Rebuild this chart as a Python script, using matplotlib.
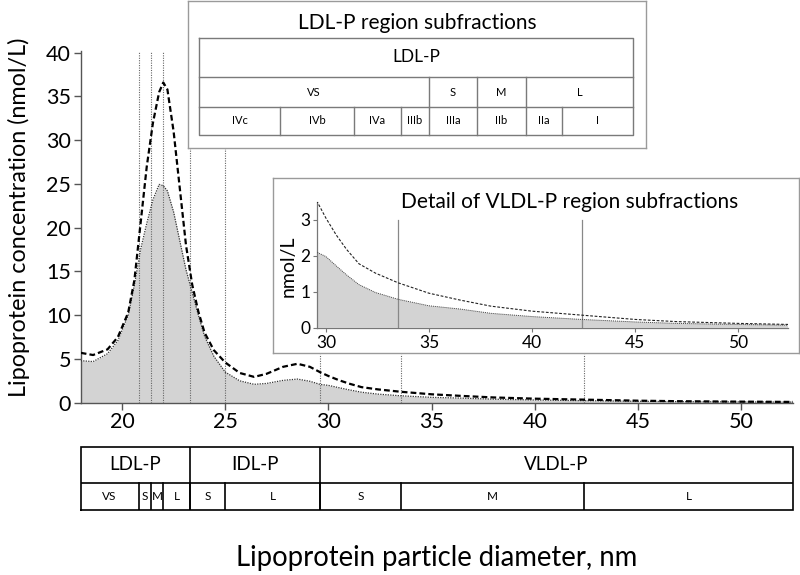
import matplotlib
matplotlib.use("Agg")
import matplotlib.pyplot as plt
import numpy as np

plt.rcParams['font.family'] = ['Lato', 'DejaVu Sans']

# ---------------- data ----------------
diameter = [18.0, 18.6, 19.3, 19.8, 20.3, 20.6, 20.9, 21.2, 21.5, 21.8, 22.0,
            22.2, 22.5, 22.8, 23.1, 23.4, 23.7, 24.0, 24.45, 25.0, 25.7, 26.4,
            27.0, 27.8, 28.5, 29.1, 29.6, 30.0, 30.5, 31.0, 31.6, 32.4, 33.5,
            35.0, 36.5, 38.0, 40.0, 42.4, 45.0, 47.0, 50.0, 52.5]
total_conc = [5.7, 5.45, 6.1, 7.5, 10.3, 14.0, 20.5, 27.0, 32.0, 35.5, 36.6,
              35.8, 31.0, 24.5, 18.0, 13.5, 10.4, 8.0, 6.0, 4.6, 3.4, 2.95,
              3.3, 4.1, 4.45, 4.1, 3.48, 3.05, 2.58, 2.18, 1.78, 1.52, 1.25,
              0.96, 0.77, 0.6, 0.46, 0.35, 0.23, 0.17, 0.12, 0.09]
subj_conc = [4.8, 4.7, 5.6, 7.1, 10.0, 13.4, 17.5, 20.5, 23.2, 24.95, 24.8,
             24.2, 21.8, 18.5, 15.2, 12.6, 10.0, 7.6, 5.3, 3.5, 2.5, 2.1,
             2.2, 2.55, 2.7, 2.45, 2.09, 1.98, 1.72, 1.47, 1.2, 0.98, 0.79,
             0.61, 0.52, 0.4, 0.31, 0.23, 0.16, 0.12, 0.09, 0.07]

# class boundaries (nm)
class_edges = [18.0, 23.3, 29.6, 52.5]
class_labels = ['LDL-P', 'IDL-P', 'VLDL-P']
size_edges = [18.0, 20.8, 21.4, 22.0, 23.3, 25.0, 29.6, 33.5, 42.4, 52.5]
size_labels = ['VS', 'S', 'M', 'L', 'S', 'L', 'S', 'M', 'L']
ldl_idl_vlines = [20.8, 21.4, 22.0, 23.3, 25.0]
vldl_vlines = [29.6, 33.5, 42.4]
vldl_detail_vlines = [33.5, 42.4]

# LDL-P subfraction schematic
ldl_sub_labels = ['IVc', 'IVb', 'IVa', 'IIIb', 'IIIa', 'IIb', 'IIa', 'I']
ldl_sub_widths = [81, 74, 47, 28, 48, 49, 36, 71]
ldl_group_labels = ['VS', 'S', 'M', 'L']
ldl_group_spans = [4, 1, 1, 2]

W, H = 800, 575
fig = plt.figure(figsize=(8, 5.75), dpi=100)

def fax(x0, y0, x1, y1):
    """axes rect from pixel box (top-left origin)"""
    return [x0 / W, 1 - y1 / H, (x1 - x0) / W, (y1 - y0) / H]

# ---------------- main axes ----------------
ax = fig.add_axes(fax(80.7, 51, 793, 402.7))
ax.fill_between(diameter, subj_conc, 0, color='#d3d3d3', lw=0, zorder=1)
for v in ldl_idl_vlines:
    ax.plot([v, v], [0, 40.2], color='#666666', ls=(0, (1, 1.2)), lw=0.8, zorder=2)
for v in vldl_vlines:
    ax.plot([v, v], [0, 5.6], color='#666666', ls=(0, (1, 1.2)), lw=0.8, zorder=2)
ax.plot(diameter, subj_conc, color='#333333', ls=(0, (1, 1)), lw=0.9, zorder=3)
ax.plot(diameter, total_conc, color='black', ls=(0, (2.6, 1.4)), lw=1.6, zorder=4)
ax.set_xlim(18, 52.5)
ax.set_ylim(0, 40.2)
ax.set_xticks([20, 25, 30, 35, 40, 45, 50])
ax.set_yticks([0, 5, 10, 15, 20, 25, 30, 35, 40])
for s in ['top', 'right']:
    ax.spines[s].set_visible(False)
for s in ['left', 'bottom']:
    ax.spines[s].set_color('#555555')
    ax.spines[s].set_linewidth(1.0)
ax.tick_params(axis='both', labelsize=15.5, length=5, width=1, color='#555555', pad=2)
ax.set_facecolor('white')

fig.text(19 / W, 1 - 217 / H, 'Lipoprotein concentration (nmol/L)', rotation=90,
         ha='center', va='center', fontsize=16.8)
fig.text(437 / W, 1 - 558 / H, 'Lipoprotein particle diameter, nm',
         ha='center', va='center', fontsize=19.8)

# ---------------- bottom class table ----------------
tab = fig.add_axes(fax(80.7, 446.7, 793, 510))
tab.set_xlim(18, 52.5)
tab.set_ylim(0, 1)
tab.axis('off')
mid = 0.427
lw_t = 1.2
tab.plot([18, 52.5, 52.5, 18, 18], [0, 0, 1, 1, 0], color='black', lw=lw_t,
         clip_on=False, solid_joinstyle='miter')
tab.plot([18, 52.5], [mid, mid], color='black', lw=lw_t)
for e in class_edges[1:-1]:
    tab.plot([e, e], [0, 1], color='black', lw=lw_t)
for e in size_edges[1:-1]:
    tab.plot([e, e], [0, mid], color='black', lw=lw_t)
for i, lab in enumerate(class_labels):
    tab.text((class_edges[i] + class_edges[i + 1]) / 2, (1 + mid) / 2, lab,
             ha='center', va='center', fontsize=13.5)
for i, lab in enumerate(size_labels):
    tab.text((size_edges[i] + size_edges[i + 1]) / 2, mid / 2, lab,
             ha='center', va='center', fontsize=8.5)

# ---------------- LDL-P subfraction box ----------------
bx = fig.add_axes(fax(188, 1, 646, 148))
bx.set_xlim(0, 458)
bx.set_ylim(147, 0)
bx.set_xticks([])
bx.set_yticks([])
for s in bx.spines.values():
    s.set_color('#9a9a9a')
    s.set_linewidth(1.0)
bx.text(229, 22, 'LDL-P region subfractions', ha='center', va='center', fontsize=15)
gx0, gx1 = 11, 11 + sum(ldl_sub_widths)
r0, r1, r2, r3 = 36.7, 76.3, 105.7, 134.3
tc = '#7a7a7a'
bx.plot([gx0, gx1, gx1, gx0, gx0], [r0, r0, r3, r3, r0], color=tc, lw=1.0)
bx.plot([gx0, gx1], [r1, r1], color=tc, lw=1.0)
bx.plot([gx0, gx1], [r2, r2], color=tc, lw=1.0)
bx.text((gx0 + gx1) / 2, (r0 + r1) / 2, 'LDL-P', ha='center', va='center', fontsize=12.5)
sub_edges = np.concatenate([[gx0], gx0 + np.cumsum(ldl_sub_widths)])
for e in sub_edges[1:-1]:
    bx.plot([e, e], [r2, r3], color=tc, lw=1.0)
for i, lab in enumerate(ldl_sub_labels):
    bx.text((sub_edges[i] + sub_edges[i + 1]) / 2, (r2 + r3) / 2, lab,
            ha='center', va='center', fontsize=8)
grp_idx = np.concatenate([[0], np.cumsum(ldl_group_spans)])
for e in grp_idx[1:-1]:
    bx.plot([sub_edges[e], sub_edges[e]], [r1, r2], color=tc, lw=1.0)
for i, lab in enumerate(ldl_group_labels):
    bx.text((sub_edges[grp_idx[i]] + sub_edges[grp_idx[i + 1]]) / 2, (r1 + r2) / 2,
            lab, ha='center', va='center', fontsize=8)

# ---------------- VLDL-P detail box ----------------
vb = fig.add_axes(fax(273, 178, 799, 353))
vb.set_xticks([])
vb.set_yticks([])
for s in vb.spines.values():
    s.set_color('#9a9a9a')
    s.set_linewidth(1.0)
vb.text(0.563, 0.865, 'Detail of VLDL-P region subfractions', transform=vb.transAxes,
        ha='center', va='center', fontsize=15)

ins = fig.add_axes(fax(317.3, 202, 787.7, 327.7))
ins.set_facecolor('none')
ins.fill_between(diameter, subj_conc, 0, color='#d3d3d3', lw=0, zorder=1)
ins.plot(diameter, subj_conc, color='#444444', ls=(0, (1, 1)), lw=0.7, zorder=3)
ins.plot(diameter, total_conc, color='#222222', ls=(0, (2.5, 1.5)), lw=0.8, zorder=4)
for v in vldl_detail_vlines:
    ins.plot([v, v], [0, 3.0], color='#888888', lw=0.9, zorder=2)
ins.set_xlim(29.58, 52.4)
ins.set_ylim(0, 3.5)
ins.set_xticks([30, 35, 40, 45, 50])
ins.set_yticks([0, 1, 2, 3])
for s in ['top', 'right']:
    ins.spines[s].set_visible(False)
for s in ['left', 'bottom']:
    ins.spines[s].set_color('#777777')
    ins.spines[s].set_linewidth(0.9)
ins.tick_params(axis='both', labelsize=12.5, length=3, width=0.8, color='#777777', pad=2)
fig.text(288 / W, 1 - 266 / H, 'nmol/L', rotation=90, ha='center', va='center',
         fontsize=14)

fig.savefig('out.png', dpi=100)
